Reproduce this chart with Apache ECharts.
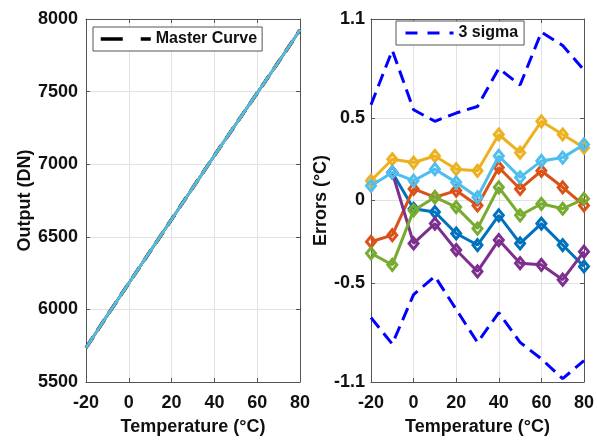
<!DOCTYPE html>
<html>
<head>
<meta charset="utf-8">
<title>Output and errors vs temperature</title>
<script src="https://cdn.jsdelivr.net/npm/echarts@6/dist/echarts.min.js"></script>
<style>
  html, body { margin: 0; padding: 0; background: #fff; }
  #chart { width: 597px; height: 441px; }
</style>
</head>
<body>
<div id="chart"></div>
<script>
// Temperature steps (°C)
const temperatures = [-20, -10, 0, 10, 20, 30, 40, 50, 60, 70, 80];

// Sensor output (DN) for the master curve; the individual sensors overlap it
const outputDN = [5735, 5960, 6180, 6400, 6620, 6840, 7060, 7275, 7490, 7705, 7925];

// Per-sensor temperature errors (°C)
const errBlue   = [null, 0.17, -0.05, -0.07, -0.20, -0.27, -0.09, -0.26, -0.14, -0.27, -0.40];
const errOrange = [-0.25, -0.21, 0.07, 0.02, 0.06, -0.03, 0.20, 0.07, 0.18, 0.08, -0.03];
const errYellow = [0.12, 0.25, 0.23, 0.27, 0.19, 0.18, 0.40, 0.29, 0.48, 0.40, 0.32];
const errPurple = [null, 0.17, -0.26, -0.14, -0.30, -0.43, -0.24, -0.38, -0.39, -0.48, -0.31];
const errGreen  = [-0.32, -0.39, -0.06, 0.02, -0.04, -0.17, 0.08, -0.09, -0.02, -0.05, 0.01];
const errCyan   = [0.09, 0.17, 0.12, 0.19, 0.11, 0.02, 0.27, 0.14, 0.24, 0.26, 0.34];

// 3-sigma envelope (°C)
const sigmaUpper = [0.58, 0.91, 0.55, 0.48, 0.53, 0.57, 0.80, 0.70, 1.02, 0.94, 0.79];
const sigmaLower = [-0.71, -0.87, -0.57, -0.46, -0.66, -0.86, -0.68, -0.86, -0.96, -1.08, -0.97];

// Axis ticks
const tempTicks = { min: -20, max: 80, interval: 20 };
const outputTicks = { min: 5500, max: 8000, interval: 500 };
const errorTicks = [-1.1, -0.5, 0, 0.5, 1.1];

const FONT = "'Liberation Sans', Arial, Helvetica, sans-serif";
const AXIS_COLOR = '#555';
const GRID_COLOR = '#e2e2e2';
const TEXT_COLOR = '#111';

const sensorColors = ['#0072BD', '#D95319', '#EDB120', '#7E2F8E', '#77AC30', '#4DBEEE'];
const sensorErrors = [errBlue, errOrange, errYellow, errPurple, errGreen, errCyan];

const pairs = arr => temperatures.map((t, i) => [t, arr[i]]);

const labelStyle = { fontFamily: FONT, fontWeight: 'bold', fontSize: 18, color: TEXT_COLOR };
const axisLine = { show: true, onZero: false, lineStyle: { color: AXIS_COLOR, width: 1 } };
const tickIn = { show: true, inside: true, length: 4, lineStyle: { color: AXIS_COLOR } };

function xAxes(gridIndex) {
  return [
    {
      type: 'value', gridIndex, position: 'bottom',
      min: tempTicks.min, max: tempTicks.max, interval: tempTicks.interval,
      name: 'Temperature (°C)', nameLocation: 'middle', nameGap: 36,
      nameTextStyle: labelStyle,
      axisLine, axisTick: tickIn,
      axisLabel: Object.assign({ margin: 12, formatter: v => String(v) }, labelStyle),
      splitLine: { show: true, lineStyle: { color: GRID_COLOR, width: 1 } }
    },
    {
      type: 'value', gridIndex, position: 'top',
      min: tempTicks.min, max: tempTicks.max, interval: tempTicks.interval,
      axisLine, axisTick: tickIn, axisLabel: { show: false }, splitLine: { show: false }
    }
  ];
}

const legendBase = {
  itemHeight: 14, itemGap: 4,
  backgroundColor: '#fff', borderColor: AXIS_COLOR, borderWidth: 1,
  itemStyle: { opacity: 0 },
  textStyle: { fontFamily: FONT, fontWeight: 'bold', fontSize: 16, color: TEXT_COLOR },
  selectedMode: false
};

const option = {
  animation: false,
  backgroundColor: '#fff',
  grid: [
    { left: 86, top: 19, width: 214, height: 368 },
    { left: 371, top: 19, width: 217, height: 368 }
  ],
  xAxis: [...xAxes(0), ...xAxes(1)],
  yAxis: [
    {
      type: 'value', gridIndex: 0, position: 'left',
      min: outputTicks.min, max: outputTicks.max, interval: outputTicks.interval,
      name: 'Output (DN)', nameLocation: 'middle', nameGap: 51,
      nameTextStyle: labelStyle,
      axisLine, axisTick: tickIn,
      axisLabel: Object.assign({ margin: 8, formatter: v => String(v) }, labelStyle),
      splitLine: { show: true, lineStyle: { color: GRID_COLOR, width: 1 } }
    },
    {
      type: 'value', gridIndex: 0, position: 'right',
      min: outputTicks.min, max: outputTicks.max, interval: outputTicks.interval,
      axisLine, axisTick: tickIn, axisLabel: { show: false }, splitLine: { show: false }
    },
    {
      type: 'value', gridIndex: 1, position: 'left',
      min: -1.1, max: 1.1,
      name: 'Errors (°C)', nameLocation: 'middle', nameGap: 38,
      nameTextStyle: labelStyle,
      axisLine,
      axisTick: Object.assign({ customValues: errorTicks }, tickIn),
      axisLabel: Object.assign({ margin: 6, customValues: errorTicks, formatter: v => String(v) }, labelStyle),
      splitLine: { show: true, lineStyle: { color: GRID_COLOR, width: 1 } }
    },
    {
      type: 'value', gridIndex: 1, position: 'right',
      min: -1.1, max: 1.1,
      axisLine,
      axisTick: Object.assign({ customValues: errorTicks }, tickIn),
      axisLabel: { show: false }, splitLine: { show: false }
    }
  ],
  legend: [
    Object.assign({}, legendBase, {
      data: ['Master Curve'],
      left: 93, top: 27,
      itemWidth: 50,
      padding: [4, 5, 4, 6],
      lineStyle: { type: [22, 18], width: 3.5 }
    }),
    Object.assign({}, legendBase, {
      data: ['3 sigma'],
      left: 396, top: 21,
      itemWidth: 48,
      padding: [4, 6, 4, 8],
      lineStyle: { type: [12, 10], width: 3 }
    })
  ],
  series: []
};

// Left panel: master curve (dashed) with the sensor outputs drawn over it
option.series.push({
  name: 'Master Curve', type: 'line', xAxisIndex: 0, yAxisIndex: 0,
  data: pairs(outputDN), symbol: 'none', color: '#000',
  lineStyle: { color: '#000', width: 3.5, type: [13, 8] }, z: 2
});
sensorColors.forEach((c, k) => {
  option.series.push({
    name: 'Sensor ' + (k + 1) + ' output', type: 'line', xAxisIndex: 0, yAxisIndex: 0,
    data: pairs(outputDN), symbol: 'none', color: c,
    lineStyle: { color: c, width: 2.5 }, z: 3 + k
  });
});

// Right panel: per-sensor errors with open diamond markers
sensorColors.forEach((c, k) => {
  option.series.push({
    name: 'Sensor ' + (k + 1) + ' error', type: 'line', xAxisIndex: 2, yAxisIndex: 2,
    data: pairs(sensorErrors[k]), color: c,
    symbol: 'diamond', symbolSize: [9, 11], showAllSymbol: true,
    itemStyle: { color: 'rgba(255,255,255,0)', borderColor: c, borderWidth: 3 },
    lineStyle: { color: c, width: 3 }, z: 3 + k
  });
});

// 3-sigma envelope, upper and lower
[sigmaUpper, sigmaLower].forEach(arr => {
  option.series.push({
    name: '3 sigma', type: 'line', xAxisIndex: 2, yAxisIndex: 2,
    data: pairs(arr), symbol: 'none', color: '#0000FF',
    lineStyle: { color: '#0000FF', width: 3, type: [13, 7] }, z: 10
  });
});

const chart = echarts.init(document.getElementById('chart'), null, { renderer: 'canvas' });
chart.setOption(option);
</script>
</body>
</html>
